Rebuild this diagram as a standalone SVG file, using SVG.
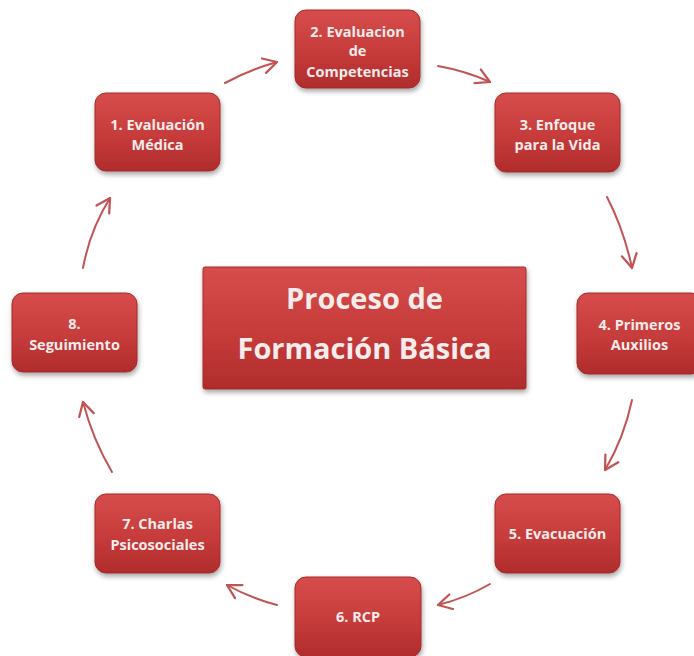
<svg xmlns="http://www.w3.org/2000/svg" width="694" height="656" viewBox="0 0 694 656">
<defs>
<linearGradient id="g" x1="0" y1="0" x2="0" y2="1">
<stop offset="0" stop-color="#d64d4b"/>
<stop offset="0.55" stop-color="#c63b3a"/>
<stop offset="1" stop-color="#b02c2c"/>
</linearGradient>
<filter id="sh" x="-20%" y="-20%" width="140%" height="150%">
<feDropShadow dx="1" dy="3" stdDeviation="2.5" flood-color="#000" flood-opacity="0.35"/>
</filter>
<marker id="ah" viewBox="0 0 12 12" refX="10" refY="6" markerWidth="9" markerHeight="9" orient="auto" markerUnits="strokeWidth">
<path d="M1,1 L10,6 L1,11" fill="none" stroke="#c05454" stroke-width="1.5" stroke-linecap="round" stroke-linejoin="round"/>
</marker>
</defs>
<style>
.box{fill:url(#g);stroke:#a32a2a;stroke-width:1;filter:url(#sh)}
.t{font-family:"Open Sans","Liberation Sans",sans-serif;font-weight:bold;font-size:14.5px;fill:#f7ecec;text-anchor:middle}
.big{font-size:29px}
.c{fill:none;stroke:#c05454;stroke-width:2;stroke-linecap:round;marker-end:url(#ah)}
</style>
<rect width="694" height="656" fill="#ffffff"/>
<g id="connectors">
<path class="c" d="M225,83 Q249,70 277,62"/>
<path class="c" d="M438,66 Q466,71 490,82"/>
<path class="c" d="M607,197 Q624,230 632,268"/>
<path class="c" d="M632,400 Q624,438 605,470"/>
<path class="c" d="M490,584 Q466,598 438,605"/>
<path class="c" d="M277,605 Q250,598 227,585"/>
<path class="c" d="M112,472 Q93,440 83,402"/>
<path class="c" d="M83,268 Q90,230 110,198"/>
</g>
<g id="center">
<rect class="box" x="203" y="267" width="323" height="122" rx="2"/>
<text class="t big" x="364.5" y="309">Proceso de</text>
<text class="t big" x="364.5" y="359">Formación Básica</text>
</g>
<g id="n1">
<rect class="box" x="95" y="93" width="125" height="78" rx="11"/>
<text class="t" x="157.5" y="130">1. Evaluación</text>
<text class="t" x="157.5" y="150">Médica</text>
</g>
<g id="n2">
<rect class="box" x="295" y="10" width="125" height="78" rx="11"/>
<text class="t" x="357.5" y="37">2. Evaluacion</text>
<text class="t" x="357.5" y="56">de</text>
<text class="t" x="357.5" y="77">Competencias</text>
</g>
<g id="n3">
<rect class="box" x="495" y="93" width="125" height="79" rx="11"/>
<text class="t" x="557.5" y="130">3. Enfoque</text>
<text class="t" x="557.5" y="150">para la Vida</text>
</g>
<g id="n4">
<rect class="box" x="577" y="293" width="125" height="81" rx="11"/>
<text class="t" x="639.5" y="330">4. Primeros</text>
<text class="t" x="639.5" y="350">Auxilios</text>
</g>
<g id="n5">
<rect class="box" x="495" y="494" width="125" height="79" rx="11"/>
<text class="t" x="557.5" y="539">5. Evacuación</text>
</g>
<g id="n6">
<rect class="box" x="295" y="577" width="126" height="80" rx="11"/>
<text class="t" x="358" y="622">6. RCP</text>
</g>
<g id="n7">
<rect class="box" x="95" y="494" width="125" height="79" rx="11"/>
<text class="t" x="157.5" y="529">7. Charlas</text>
<text class="t" x="157.5" y="550">Psicosociales</text>
</g>
<g id="n8">
<rect class="box" x="12" y="293" width="125" height="79" rx="11"/>
<text class="t" x="74.5" y="329">8.</text>
<text class="t" x="74.5" y="350">Seguimiento</text>
</g>
</svg>
